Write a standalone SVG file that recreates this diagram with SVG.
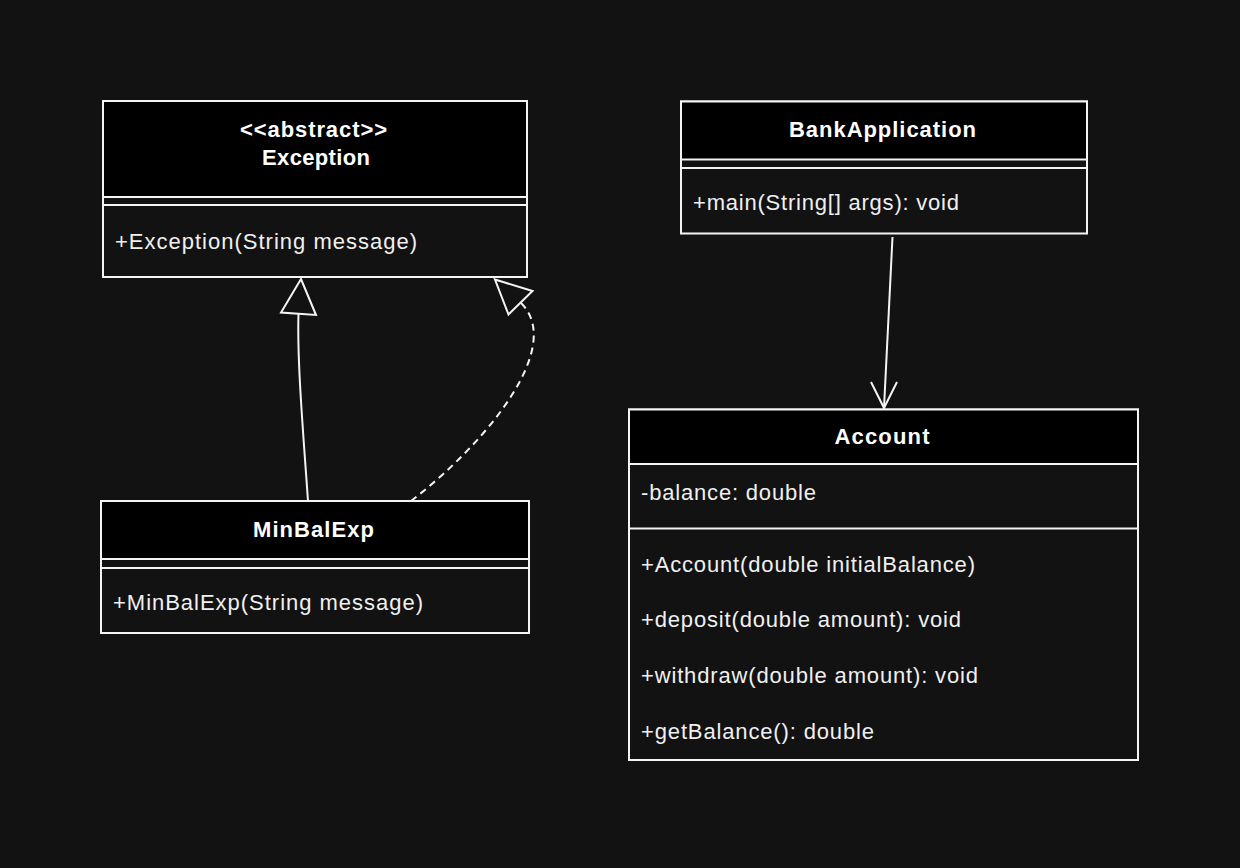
<svg xmlns="http://www.w3.org/2000/svg" width="1240" height="868" viewBox="0 0 1240 868">
<style>
.box{fill:#121212;stroke:#f4f4f4;stroke-width:2}
.hdr{fill:#000000;stroke:#f4f4f4;stroke-width:2}
.sep{stroke:#f4f4f4;stroke-width:2}
.title{font-family:"Liberation Sans",Arial,sans-serif;font-size:22px;font-weight:bold;fill:#ffffff;text-anchor:middle}
.item{font-family:"Liberation Sans",Arial,sans-serif;font-size:22px;fill:#f0f0f0}
.edge{fill:none;stroke:#f4f4f4;stroke-width:2}
.head{fill:#121212;stroke:#f4f4f4;stroke-width:2;stroke-linejoin:miter}
</style>
<rect width="1240" height="868" fill="#121212"/>
<g id="connectors">
  <path class="edge" d="M 308 501 C 303 430 297 360 298.5 314"/>
  <polygon class="head" points="301,279 281,312.5 316,315"/>
  <path class="edge" stroke-dasharray="7 5" d="M 411 501 C 490 440 565 345 520.5 302.5"/>
  <polygon class="head" points="495,279.5 532.5,291 508.5,314.5"/>
  <path class="edge" d="M 892.5 237 L 884 408"/>
  <path class="edge" d="M 871 382 L 884 408 L 897 382"/>
</g>
<g id="exception">
  <rect class="box" x="103" y="101" width="424" height="176"/>
  <rect class="hdr" x="103" y="101" width="424" height="96"/>
  <line class="sep" x1="103" y1="205" x2="527" y2="205"/>
  <text class="title" x="313.5" y="137" textLength="147" lengthAdjust="spacing">&lt;&lt;abstract&gt;&gt;</text>
  <text class="title" x="316" y="164.5" textLength="108" lengthAdjust="spacing">Exception</text>
  <text class="item" x="115" y="248.5" textLength="302" lengthAdjust="spacing">+Exception(String message)</text>
</g>
<g id="minbalexp">
  <rect class="box" x="101" y="501" width="428" height="132"/>
  <rect class="hdr" x="101" y="501" width="428" height="58"/>
  <line class="sep" x1="101" y1="568" x2="529" y2="568"/>
  <text class="title" x="313.5" y="536.5" textLength="121" lengthAdjust="spacing">MinBalExp</text>
  <text class="item" x="113" y="610" textLength="310" lengthAdjust="spacing">+MinBalExp(String message)</text>
</g>
<g id="bankapplication">
  <rect class="box" x="681" y="101.5" width="406" height="132"/>
  <rect class="hdr" x="681" y="101.5" width="406" height="58"/>
  <line class="sep" x1="681" y1="168" x2="1087" y2="168"/>
  <text class="title" x="882.5" y="136.5" textLength="187" lengthAdjust="spacing">BankApplication</text>
  <text class="item" x="693" y="210" textLength="266" lengthAdjust="spacing">+main(String[] args): void</text>
</g>
<g id="account">
  <rect class="box" x="629" y="409.5" width="509" height="350.5"/>
  <rect class="hdr" x="629" y="409.5" width="509" height="54.5"/>
  <line class="sep" x1="629" y1="528.5" x2="1138" y2="528.5"/>
  <text class="title" x="882" y="444" textLength="95" lengthAdjust="spacing">Account</text>
  <text class="item" x="641" y="500" textLength="175" lengthAdjust="spacing">-balance: double</text>
  <text class="item" x="641" y="571.5" textLength="334" lengthAdjust="spacing">+Account(double initialBalance)</text>
  <text class="item" x="641" y="627" textLength="320" lengthAdjust="spacing">+deposit(double amount): void</text>
  <text class="item" x="641" y="683" textLength="337" lengthAdjust="spacing">+withdraw(double amount): void</text>
  <text class="item" x="641" y="738.5" textLength="233" lengthAdjust="spacing">+getBalance(): double</text>
</g>
</svg>
